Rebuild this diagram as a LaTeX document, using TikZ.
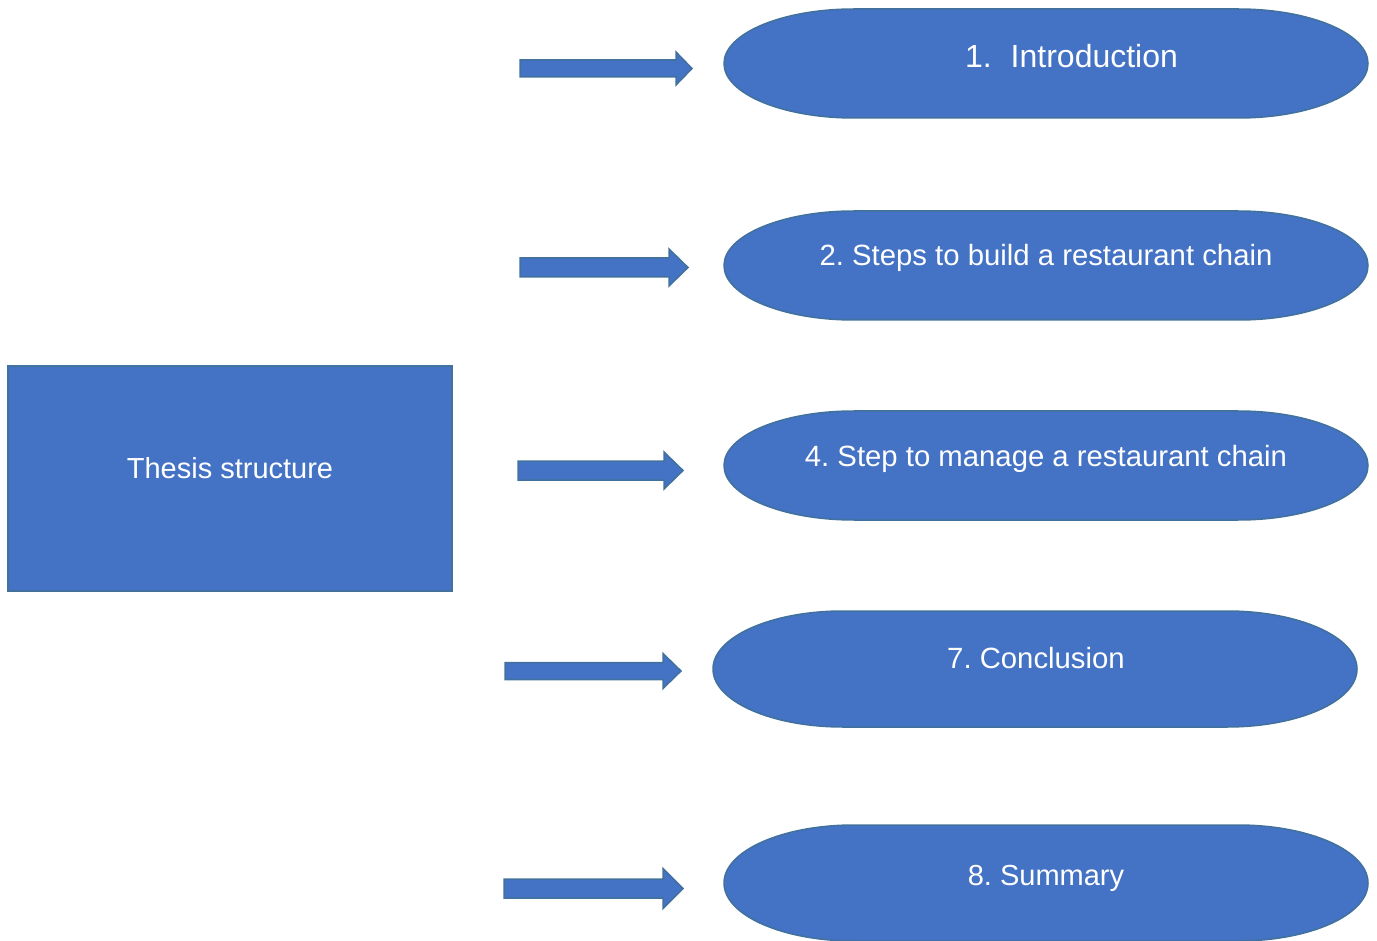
\documentclass[tikz,border=0pt]{standalone}
\usepackage{fontspec}
\setmainfont{Liberation Sans}
\frenchspacing
\definecolor{fillblue}{HTML}{4472C4}
\definecolor{edgeblue}{HTML}{41719C}
\tikzset{
  shapestyle/.style={fill=fillblue, draw=edgeblue, line width=1.5pt, line join=miter},
  lbl/.style={text=white, font=\fontsize{29.3}{35}\selectfont, anchor=base, inner sep=0pt},
}
\newcommand\pillrx{130}
% name, cx, cy (down), width, height
\newcommand\pill[5]{%
  \path[shapestyle] (#2-#4/2+\pillrx,-#3+#5/2) -- (#2+#4/2-\pillrx,-#3+#5/2)
    arc[start angle=90,end angle=-90,x radius=\pillrx,y radius=#5/2]
    -- (#2-#4/2+\pillrx,-#3-#5/2)
    arc[start angle=270,end angle=90,x radius=\pillrx,y radius=#5/2] -- cycle;
  \coordinate (#1) at (#2,-#3);}
% name, x tail, x head base, x tip, y centre (down), half shaft, half head
\newcommand\blockarrow[7]{%
  \coordinate (#1) at (#2,-#5);
  \path[shapestyle] (#2,-#5+#6) -- (#3,-#5+#6) -- (#3,-#5+#7) -- (#4,-#5)
    -- (#3,-#5-#7) -- (#3,-#5-#6) -- (#2,-#5-#6) -- cycle;}
\begin{document}
\begin{tikzpicture}[x=1pt,y=1pt]
\useasboundingbox (0,0) rectangle (1377,-941);

% left box
\node[shapestyle, minimum width=444pt, minimum height=225pt, inner sep=0pt] (thesis) at (230,-478.5) {};
\node[lbl, font=\fontsize{29}{35}\selectfont] (thesislbl) at (230,-478) {Thesis structure};

% arrows
\blockarrow{a1}{520}{676}{692}{68.5}{8.5}{16.5}
\blockarrow{a2}{520}{669}{688}{267.5}{9.5}{18.5}
\blockarrow{a3}{518}{664}{683}{470.5}{9.5}{18.5}
\blockarrow{a4}{505}{663}{681}{671}{8.5}{17.5}
\blockarrow{a5}{504}{663}{683}{888.5}{9.5}{20}

% pills
\pill{p1}{1046}{63.5}{644}{109}
\pill{p2}{1046}{265.5}{644}{109}
\pill{p3}{1046}{465.5}{644}{109}
\pill{p4}{1035}{669}{644}{116}
\pill{p5}{1046}{883}{644}{116}

\node[lbl, font=\fontsize{32}{38}\selectfont] (l1) at (1071.5,-67.5) {1.\hspace{19pt}Introduction};
\node[lbl] (l2) at (1046,-266) {2. Steps to build a restaurant chain};
\node[lbl] (l3) at (1046,-466) {4. Step to manage a restaurant chain};
\node[lbl] (l4) at (1036,-668.5) {7. Conclusion};
\node[lbl, font=\fontsize{29}{35}\selectfont] (l5) at (1046,-885) {8. Summary};
\end{tikzpicture}
\end{document}
